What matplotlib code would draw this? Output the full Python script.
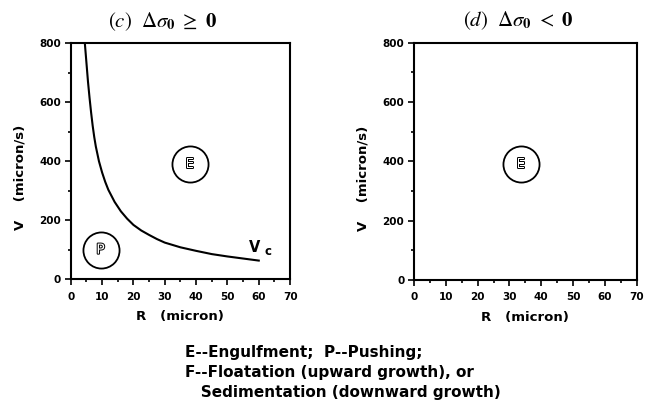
import matplotlib
matplotlib.use('Agg')
import matplotlib.pyplot as plt
import matplotlib.patheffects as pe
from matplotlib.ticker import MultipleLocator

# critical velocity curve Vc(R) for panel (c)
R_vc = [4.5, 5, 5.5, 6, 6.5, 7, 7.5, 8, 9, 10, 11, 12, 14, 16, 18, 20,
        22.5, 25, 27.5, 30, 35, 40, 45, 50, 55, 60]
V_vc = [800, 735, 670, 615, 565, 520, 482, 450, 400, 362, 330, 303, 262, 230,
        205, 184, 165, 150, 136, 124, 108, 96, 85, 77, 70, 63]

# region markers: (label, R, V)
regions_c = [("E", 38, 390), ("P", 9.5, 100)]
regions_d = [("E", 33.5, 390)]

titles = [r"$(\mathit{c})\ \ \Delta\sigma_\mathbf{0}\ \geq\ \mathbf{0}$",
          r"$(\mathit{d})\ \ \Delta\sigma_\mathbf{0}\ <\ \mathbf{0}$"]
x_ticks = [0, 10, 20, 30, 40, 50, 60, 70]
y_ticks = [0, 200, 400, 600, 800]

legend_lines = ["E--Engulfment;  P--Pushing;",
                "F--Floatation (upward growth), or",
                "   Sedimentation (downward growth)"]

plt.rcParams['mathtext.fontset'] = 'stix'
plt.rcParams['font.family'] = 'DejaVu Sans'

fig = plt.figure(figsize=(6.49, 4.04), dpi=100)
ax_c = fig.add_axes([0.109, 0.309, 0.338, 0.584])
ax_d = fig.add_axes([0.638, 0.307, 0.343, 0.587])


def style_axes(ax, title, title_x):
    ax.set_xlim(0, 70)
    ax.set_ylim(0, 800)
    ax.set_xticks(x_ticks)
    ax.set_yticks(y_ticks)
    ax.xaxis.set_minor_locator(MultipleLocator(5))
    ax.yaxis.set_minor_locator(MultipleLocator(100))
    ax.tick_params(which='both', direction='out', width=1.2)
    ax.tick_params(which='major', length=4, labelsize=7.5)
    ax.tick_params(axis='x', which='major', pad=5)
    ax.tick_params(axis='y', which='major', pad=3)
    ax.tick_params(which='minor', length=2)
    for lab in ax.get_xticklabels() + ax.get_yticklabels():
        lab.set_fontweight('bold')
    for s in ax.spines.values():
        s.set_linewidth(1.5)
    ax.set_xlabel("R   (micron)", fontsize=9.5, fontweight='bold')
    ax.set_ylabel("V    (micron/s)", fontsize=9.5, fontweight='bold')
    ax.xaxis.set_label_coords(0.5, -0.13)
    ax.yaxis.set_label_coords(-0.2, 0.43)
    ax.text(title_x, 1.0 + 22 / 236, title, transform=ax.transAxes,
            fontsize=15, ha='center', va='center')


def mark_region(ax, label, r, v):
    ax.plot([r], [v], 'o', ms=26, mfc='none', mec='black', mew=1.3)
    ax.text(r, v, label, ha='center', va='center', fontsize=10, color='white',
            path_effects=[pe.withStroke(linewidth=1.4, foreground='black')])


style_axes(ax_c, titles[0], 0.42)
ax_c.plot(R_vc, V_vc, color='black', lw=1.5)
for lab, r, v in regions_c:
    mark_region(ax_c, lab, r, v)
ax_c.text(58.8, 108, "V", fontsize=10.5, fontweight='bold', ha='center', va='center')
ax_c.text(62.8, 95, "c", fontsize=8.5, fontweight='bold', ha='center', va='center')

style_axes(ax_d, titles[1], 0.466)
for lab, r, v in regions_d:
    mark_region(ax_d, lab, r, v)

ys = [352, 372, 392]
for line, y in zip(legend_lines, ys):
    fig.text(185 / 649, 1 - y / 404, line, fontsize=11, fontweight='bold',
             ha='left', va='center')

fig.savefig("out.png", dpi=100)
